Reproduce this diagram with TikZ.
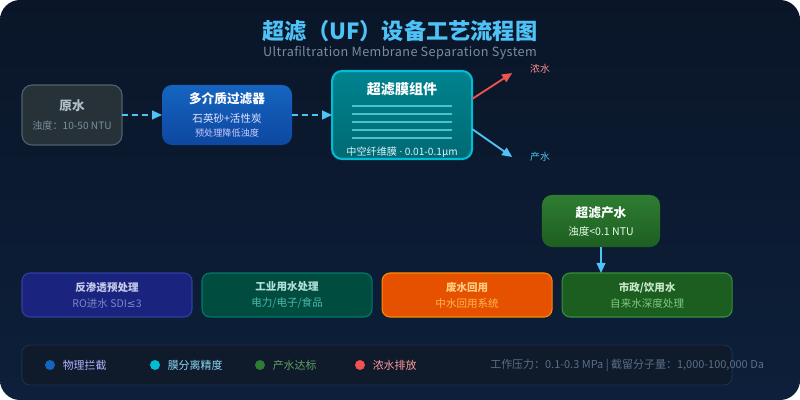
\documentclass[tikz,border=0pt]{standalone}
\usepackage{fontspec}
\setmainfont{Noto Sans CJK SC}
\newfontfamily\symfont{DejaVu Sans}
\usetikzlibrary{arrows.meta,positioning}
\definecolor{ufbgtop}{HTML}{0A1628}
\definecolor{ufbgbot}{HTML}{0D1F3A}
\definecolor{ufcyan}{HTML}{4FC3F7}
\definecolor{ufsub}{HTML}{7A8CA3}
\definecolor{ufred}{HTML}{EF5350}
\definecolor{rawfill}{HTML}{263238}
\definecolor{rawedge}{HTML}{4E616B}
\definecolor{rawtitle}{HTML}{B0BEC5}
\definecolor{rawtext}{HTML}{78909C}
\definecolor{filtop}{HTML}{1565C0}
\definecolor{filbot}{HTML}{0D47A1}
\definecolor{memtop}{HTML}{00838F}
\definecolor{membot}{HTML}{006A73}
\definecolor{memedge}{HTML}{00BCD4}
\definecolor{memline}{HTML}{4CC2CC}
\definecolor{prodtop}{HTML}{2E7D32}
\definecolor{prodbot}{HTML}{1E5E22}
\definecolor{rofill}{HTML}{1A237E}
\definecolor{roedge}{HTML}{303F9F}
\definecolor{rotitle}{HTML}{C5CAE9}
\definecolor{rotext}{HTML}{7986CB}
\definecolor{indfill}{HTML}{004D40}
\definecolor{indedge}{HTML}{00796B}
\definecolor{indtitle}{HTML}{B2DFDB}
\definecolor{indtext}{HTML}{4DB6AC}
\definecolor{reufill}{HTML}{E65100}
\definecolor{reuedge}{HTML}{FB8C00}
\definecolor{reutitle}{HTML}{FFCC80}
\definecolor{reutext}{HTML}{FFB74D}
\definecolor{munfill}{HTML}{1B5E20}
\definecolor{munedge}{HTML}{388E3C}
\definecolor{muntitle}{HTML}{C8E6C9}
\definecolor{muntext}{HTML}{81C784}
\definecolor{legfill}{HTML}{0F1A2B}
\definecolor{legedge}{HTML}{1B3252}
\definecolor{infotext}{HTML}{5B6F86}

\begin{document}
\begin{tikzpicture}[x=0.025cm, y=-0.025cm,
      node distance=1cm,
      flowbox/.style={rounded corners=0.25cm, align=center, inner sep=0pt, outer sep=0pt, minimum height=1.5cm, line width=0.8pt},
      usebox/.style={rounded corners=0.2cm, minimum width=4.25cm, minimum height=1.1cm, align=center, inner sep=0pt, outer sep=0pt, line width=0.8pt, font=\fontsize{7.5}{11.3}\selectfont},
      feed/.style={-{Triangle[length=2.5mm,width=2.2mm]}, line width=1.3pt, color=ufcyan, dash pattern=on 4.2pt off 2.8pt},
      outflow/.style={-{Triangle[length=2.5mm,width=2.2mm]}, line width=1.3pt},
      dot/.style={circle, minimum size=0.25cm, inner sep=0pt},
      legtext/.style={inner sep=0pt, anchor=west, font=\fontsize{7.8}{9}\selectfont}
    ]
      % background card
      \fill[white] (0,0) rectangle (800,400);
      \shade[rounded corners=0.5cm, top color=ufbgtop, bottom color=ufbgbot] (0,0) rectangle (800,400);

      \node[font=\bfseries\fontsize{15.8}{18}\selectfont, text=ufcyan] (title) at (400,31) {超滤（UF）设备工艺流程图};
      \node[font=\fontsize{9}{10}\selectfont\addfontfeature{LetterSpace=3}, text=ufsub] (subtitle) at (400,53) {Ultrafiltration Membrane Separation System};

      % main line
      \node[flowbox, minimum width=2.5cm, draw=rawedge, fill=rawfill, font=\fontsize{7.2}{13.5}\selectfont] (raw) at (72,115) {
        {\bfseries\fontsize{9}{13.5}\selectfont\color{rawtitle}原水}\\
        {\color{rawtext}浊度：10-50 NTU}
      };

      \node[flowbox, minimum width=3.25cm, right=of raw, top color=filtop, bottom color=filbot, font=\fontsize{7.5}{10}\selectfont] (filter) {
        {\bfseries\fontsize{9}{10}\selectfont\color{white}多介质过滤器}\\[3pt]
        {\color{blue!10}石英砂+活性炭}\\
        {\fontsize{6.5}{10}\selectfont\color{blue!20}预处理降低浊度}
      };

      \node[flowbox, minimum width=3.5cm, minimum height=2.2cm, right=of filter, draw=memedge, line width=1.5pt, top color=memtop, bottom color=membot] (membrane) {};
      \node[font=\bfseries\fontsize{10}{12}\selectfont, text=white] (memtitle) at ([yshift=-0.45cm]membrane.north) {超滤膜组件};
      \foreach \k in {0,...,4}
        \draw[memline, line width=1pt] ([xshift=0.5cm, yshift={-0.875cm-\k*0.2cm}]membrane.north west) -- ++(2.5cm,0);
      \node[font=\fontsize{7.2}{9}\selectfont, text=cyan!15] (memnote) at ([yshift=0.16cm]membrane.south) {中空纤维膜 {\symfont·} 0.01-0.1μm};

      \node[font=\fontsize{7}{9}\selectfont, text=red!45!white] (conc) at (540,69) {浓水};
      \node[font=\fontsize{7}{9}\selectfont, text=ufcyan] (perm) at (540,157) {产水};

      \node[flowbox, minimum width=2.95cm, minimum height=1.3cm, top color=prodtop, bottom color=prodbot, font=\fontsize{7.5}{12.8}\selectfont] (product) at (601,221) {
        {\bfseries\fontsize{9}{12.8}\selectfont\color{white}超滤产水}\\
        {\color{green!10}浊度<0.1 NTU}
      };

      % applications
      \node[usebox, draw=roedge, fill=rofill] (ro) at (107,295) {
        {\bfseries\color{rotitle}反渗透预处理}\\
        {\color{rotext}RO进水 SDI{\symfont≤}3}
      };
      \node[usebox, right=0.25cm of ro, draw=indedge, fill=indfill] (industry) {
        {\bfseries\color{indtitle}工业用水处理}\\
        {\color{indtext}电力/电子/食品}
      };
      \node[usebox, right=0.25cm of industry, draw=reuedge, fill=reufill] (reuse) {
        {\bfseries\color{reutitle}废水回用}\\
        {\color{reutext}中水回用系统}
      };
      \node[usebox, right=0.25cm of reuse, draw=munedge, fill=munfill] (municipal) {
        {\bfseries\color{muntitle}市政/饮用水}\\
        {\color{muntext}自来水深度处理}
      };

      \draw[feed] (raw) -- (filter);
      \draw[feed] (filter) -- (membrane);
      \draw[outflow, ufred] ([yshift=0.4cm]membrane.east) -- ([xshift=-0.325cm, yshift=-0.1cm]conc.west);
      \draw[outflow, ufcyan] ([yshift=-0.35cm]membrane.east) -- ([xshift=-0.325cm]perm.west);
      \draw[outflow, ufcyan, line width=1pt] (product.south) -- (product.south |- municipal.north);

      % legend
      \node[rounded corners=0.2cm, draw=legedge, fill=legfill, minimum width=17.75cm, minimum height=1cm, line width=0.6pt] (legend) at (377,365) {};
      \node[dot, fill=filtop] (dphys) at (50,365) {};
      \node[legtext, text=blue!30!white, right=0.18cm of dphys] (lphys) {物理拦截};
      \node[dot, fill=memedge] (dmem) at (155,365) {};
      \node[legtext, text=cyan!45!white, right=0.18cm of dmem] (lmem) {膜分离精度};
      \node[dot, fill=prodtop] (dprod) at (260,365) {};
      \node[legtext, text=green!25!gray, right=0.18cm of dprod] (lprod) {产水达标};
      \node[dot, fill=ufred] (dconc) at (360,365) {};
      \node[legtext, text=red!40!white, right=0.18cm of dconc] (lconc) {浓水排放};
      \node[legtext, text=infotext, font=\fontsize{7.8}{9}\selectfont] (info) at (490,365) {工作压力：0.1-0.3 MPa | 截留分子量：1,000-100,000 Da};
    \end{tikzpicture}
\end{document}
